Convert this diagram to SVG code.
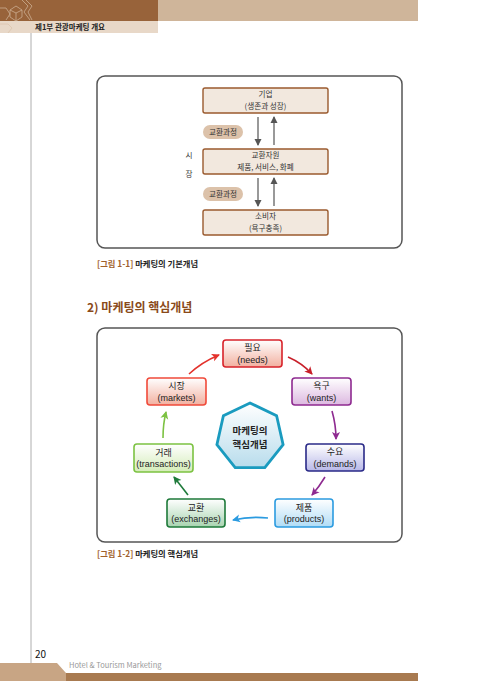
<svg xmlns="http://www.w3.org/2000/svg" width="500" height="681" viewBox="0 0 500 681">
<defs>
<style>
text{font-family:"Noto Sans CJK KR","Noto Sans",sans-serif;}
.t1{font-size:7.6px;fill:#333;text-anchor:middle;}
.nd{font-size:9px;fill:#222;text-anchor:middle;}
.en{font-family:"Liberation Sans",Arial,sans-serif;font-size:9px;fill:#222;text-anchor:middle;}
.box1{fill:#f2e8de;stroke:#9a5a2e;stroke-width:1.4;}
.pill{fill:#dcc2aa;}
.frame{fill:#fff;stroke:#555;stroke-width:1.5;}
.ga{stroke:#555;stroke-width:1.2;fill:none;}
.ca{fill:none;stroke-width:1.6;}
</style>
<marker id="ah" markerWidth="8" markerHeight="8" refX="6" refY="4" orient="auto" markerUnits="userSpaceOnUse"><path d="M0,0.5 L7,4 L0,7.5 Z" fill="#555"/></marker>
<marker id="mRed" markerWidth="9" markerHeight="9" refX="7" refY="4.5" orient="auto" markerUnits="userSpaceOnUse"><path d="M0,0.5 L8,4.5 L0,8.5 L2,4.5 Z" fill="#e3322c"/></marker>
<marker id="mRed2" markerWidth="9" markerHeight="9" refX="7" refY="4.5" orient="auto" markerUnits="userSpaceOnUse"><path d="M0,0.5 L8,4.5 L0,8.5 L2,4.5 Z" fill="#c8202a"/></marker>
<marker id="mPur" markerWidth="9" markerHeight="9" refX="7" refY="4.5" orient="auto" markerUnits="userSpaceOnUse"><path d="M0,0.5 L8,4.5 L0,8.5 L2,4.5 Z" fill="#8e2a90"/></marker>
<marker id="mBlu" markerWidth="9" markerHeight="9" refX="7" refY="4.5" orient="auto" markerUnits="userSpaceOnUse"><path d="M0,0.5 L8,4.5 L0,8.5 L2,4.5 Z" fill="#2b9be0"/></marker>
<marker id="mDG" markerWidth="9" markerHeight="9" refX="7" refY="4.5" orient="auto" markerUnits="userSpaceOnUse"><path d="M0,0.5 L8,4.5 L0,8.5 L2,4.5 Z" fill="#1e7a3a"/></marker>
<marker id="mLG" markerWidth="9" markerHeight="9" refX="7" refY="4.5" orient="auto" markerUnits="userSpaceOnUse"><path d="M0,0.5 L8,4.5 L0,8.5 L2,4.5 Z" fill="#7cc242"/></marker>
<linearGradient id="gRed" x1="0" y1="0" x2="0" y2="1"><stop offset="0" stop-color="#fff"/><stop offset="1" stop-color="#f2b0a0"/></linearGradient>
<linearGradient id="gPur" x1="0" y1="0" x2="0" y2="1"><stop offset="0" stop-color="#fff"/><stop offset="1" stop-color="#dcb8e0"/></linearGradient>
<linearGradient id="gNav" x1="0" y1="0" x2="0" y2="1"><stop offset="0" stop-color="#fff"/><stop offset="1" stop-color="#b8b8e8"/></linearGradient>
<linearGradient id="gBlu" x1="0" y1="0" x2="0" y2="1"><stop offset="0" stop-color="#fff"/><stop offset="1" stop-color="#b0dcf6"/></linearGradient>
<linearGradient id="gDG" x1="0" y1="0" x2="0" y2="1"><stop offset="0" stop-color="#fff"/><stop offset="1" stop-color="#a8d4b0"/></linearGradient>
<linearGradient id="gLG" x1="0" y1="0" x2="0" y2="1"><stop offset="0" stop-color="#fff"/><stop offset="1" stop-color="#d4ecb8"/></linearGradient>
<linearGradient id="gHex" x1="0" y1="0" x2="0" y2="1"><stop offset="0" stop-color="#ffffff"/><stop offset="1" stop-color="#b8dcec"/></linearGradient>
</defs>

<!-- page header -->
<g id="header">
<rect x="0" y="0" width="158" height="21" fill="#98633a"/>
<rect x="158" y="0" width="260" height="21" fill="#cfb59a"/>
<rect x="0" y="21" width="158" height="12" fill="#e8d8c8"/>
<g fill="none" stroke="#d9c2a8" stroke-width="0.8" opacity="0.8">
<path d="M0,8 L6,8 L10,14 L6,20"/>
<path d="M10,10 L16,6 L22,10 L22,17 L16,21 L10,17 Z"/>
<path d="M16,13 L22,10 M16,13 L10,10 M16,13 L16,21"/>
<path d="M22,0 L28,6 L24,12 L30,20"/>
<path d="M26,0 L32,6 L28,12 L32,20"/>
<path d="M0,24 L8,24 L12,28 L8,33"/>
</g>
<text x="35" y="30" font-size="7.5" font-weight="bold" fill="#222">제1부 관광마케팅 개요</text>
<line x1="31" y1="33" x2="31" y2="663" stroke="#999" stroke-width="0.8"/>
</g>

<!-- figure 1-1 -->
<g id="figure1">
<rect class="frame" x="97" y="76" width="305" height="172" rx="8"/>
<g id="f1-company"><rect class="box1" x="203" y="88" width="125" height="25" rx="2"/>
<text class="t1" x="265.5" y="97.3">기업</text><text class="t1" x="265.5" y="108.6">(생존과 성장)</text></g>
<g id="f1-resource"><rect class="box1" x="203" y="149" width="125" height="25" rx="2"/>
<text class="t1" x="265.5" y="158.3">교환자원</text><text class="t1" x="265.5" y="169.6">제품, 서비스, 화폐</text></g>
<g id="f1-consumer"><rect class="box1" x="203" y="210" width="125" height="25" rx="2"/>
<text class="t1" x="265.5" y="219.3">소비자</text><text class="t1" x="265.5" y="230.6">(욕구충족)</text></g>
<g id="f1-pill1"><rect class="pill" x="203" y="125" width="40" height="14" rx="7"/><text class="t1" x="223" y="135" font-size="7.5">교환과정</text></g>
<g id="f1-pill2"><rect class="pill" x="203" y="187" width="40" height="14" rx="7"/><text class="t1" x="223" y="197" font-size="7.5">교환과정</text></g>
<g id="f1-market"><text class="t1" x="189" y="158" font-size="8.5">시</text><text class="t1" x="189" y="177" font-size="8.5">장</text></g>
<g id="f1-connectors">
<line class="ga" x1="258" y1="117" x2="258" y2="145" marker-end="url(#ah)"/>
<line class="ga" x1="274" y1="145" x2="274" y2="117" marker-end="url(#ah)"/>
<line class="ga" x1="258" y1="178" x2="258" y2="206" marker-end="url(#ah)"/>
<line class="ga" x1="274" y1="206" x2="274" y2="178" marker-end="url(#ah)"/>
</g>
</g>
<text x="97" y="267" font-size="8.3" font-weight="bold" fill="#a0602a">[그림 1-1] <tspan fill="#222">마케팅의 기본개념</tspan></text>

<text x="87" y="312" font-size="12" font-weight="bold" fill="#8a4a1a">2) 마케팅의 핵심개념</text>

<!-- figure 1-2 -->
<rect class="frame" x="97" y="328" width="305" height="214" rx="8"/>
<g id="center">
<polygon points="250,403 276.6,415.8 283.1,444.6 264.8,467.6 235.2,467.6 216.9,444.6 223.4,415.8" fill="url(#gHex)" stroke="#1a9bbf" stroke-width="2.8" stroke-linejoin="miter"/>
<text x="250" y="434" font-size="9.5" font-weight="bold" fill="#222" text-anchor="middle">마케팅의</text>
<text x="250" y="448" font-size="9.5" font-weight="bold" fill="#222" text-anchor="middle">핵심개념</text>
</g>
<g id="needs"><rect x="223" y="340" width="59" height="27" rx="3" fill="url(#gRed)" stroke="#d8222a" stroke-width="1.6"/>
<text class="nd" x="252.5" y="351">필요</text><text class="en" x="252.5" y="362.5">(needs)</text></g>
<g id="wants"><rect x="292" y="378" width="59" height="27" rx="3" fill="url(#gPur)" stroke="#8e2a90" stroke-width="1.6"/>
<text class="nd" x="321.5" y="389">욕구</text><text class="en" x="321.5" y="400.5">(wants)</text></g>
<g id="demands"><rect x="306" y="444" width="58" height="27" rx="3" fill="url(#gNav)" stroke="#2a2a88" stroke-width="1.6"/>
<text class="nd" x="335" y="455">수요</text><text class="en" x="335" y="466.5">(demands)</text></g>
<g id="products"><rect x="275" y="499" width="58" height="28" rx="3" fill="url(#gBlu)" stroke="#2b9be0" stroke-width="1.6"/>
<text class="nd" x="304" y="510.5">제품</text><text class="en" x="304" y="522">(products)</text></g>
<g id="exchanges"><rect x="167" y="499" width="58" height="28" rx="3" fill="url(#gDG)" stroke="#1e7a3a" stroke-width="1.6"/>
<text class="nd" x="196" y="510.5">교환</text><text class="en" x="196" y="522">(exchanges)</text></g>
<g id="transactions"><rect x="134" y="444" width="59" height="28" rx="3" fill="url(#gLG)" stroke="#7cc242" stroke-width="1.6"/>
<text class="nd" x="163.5" y="455.5">거래</text><text class="en" x="163.5" y="467" font-size="8.7">(transactions)</text></g>
<g id="markets"><rect x="147" y="378" width="59" height="27" rx="3" fill="url(#gRed)" stroke="#f04a3a" stroke-width="1.6"/>
<text class="nd" x="176.5" y="389">시장</text><text class="en" x="176.5" y="400.5">(markets)</text></g>
<g id="connectors">
<path class="ca" d="M189,374 Q202,362 219,355" stroke="#e3322c" marker-end="url(#mRed)"/>
<path class="ca" d="M288,357 Q302,363 312,374" stroke="#c8202a" marker-end="url(#mRed2)"/>
<path class="ca" d="M332,411 Q336,425 336,439" stroke="#8e2a90" marker-end="url(#mPur)"/>
<path class="ca" d="M325,477 Q319,487 312,495" stroke="#8e2a90" marker-end="url(#mPur)"/>
<path class="ca" d="M268,518 Q250,516 233,520" stroke="#2b9be0" marker-end="url(#mBlu)"/>
<path class="ca" d="M188,495 Q181,486 174,477" stroke="#1e7a3a" marker-end="url(#mDG)"/>
<path class="ca" d="M163,438 Q163,424 166,412" stroke="#7cc242" marker-end="url(#mLG)"/>
</g>
<text x="97" y="557" font-size="8.3" font-weight="bold" fill="#a0602a">[그림 1-2] <tspan fill="#222">마케팅의 핵심개념</tspan></text>

<!-- footer -->
<g id="footer">
<text x="35" y="658" font-size="10" fill="#111" font-family="Liberation Sans, sans-serif">20</text>
<polygon points="0,663 57,663 66,673 66,681 0,681" fill="#c8a584"/>
<rect x="66" y="673" width="352" height="8" fill="#a87a50"/>
<text x="69" y="668" font-size="7.5" fill="#999" font-family="Liberation Sans, sans-serif">Hotel &amp; Tourism Marketing</text>
</g>
</svg>
